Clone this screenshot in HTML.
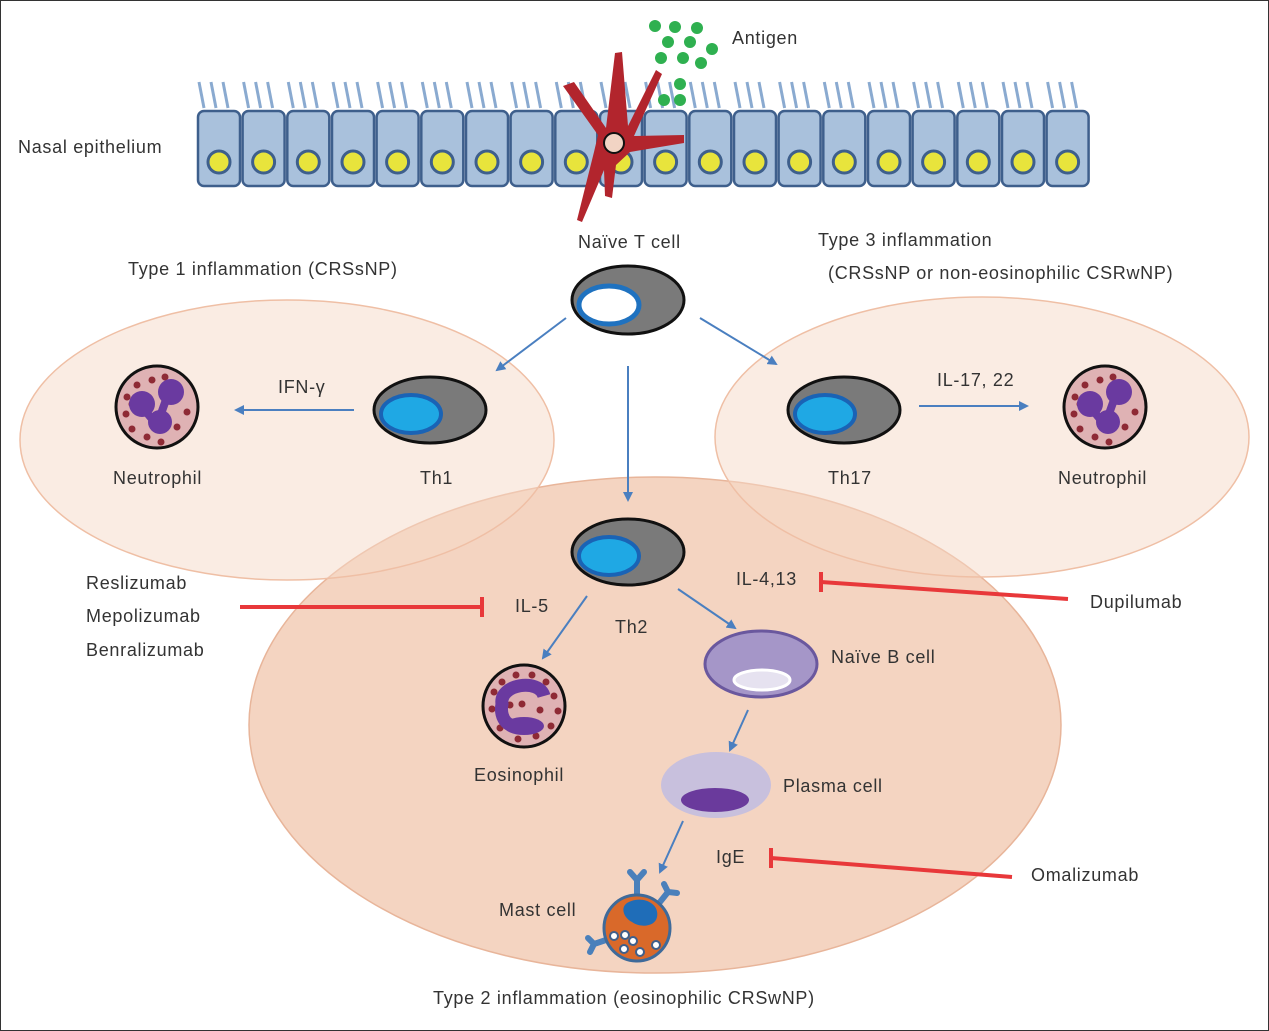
<!DOCTYPE html>
<html><head><meta charset="utf-8"><style>
html,body{margin:0;padding:0;background:#fff}
svg{display:block}
text{font-family:"Liberation Sans",sans-serif;font-size:18px;fill:#333;letter-spacing:0.7px}
</style></head><body>
<svg width="1269" height="1031" viewBox="0 0 1269 1031" xmlns="http://www.w3.org/2000/svg">
<defs>
<g id="cell">
<line x1="7" y1="108" x2="2" y2="82" stroke="#8aaad0" stroke-width="3"/>
<line x1="19" y1="108" x2="14" y2="82" stroke="#8aaad0" stroke-width="3"/>
<line x1="31" y1="108" x2="26" y2="82" stroke="#8aaad0" stroke-width="3"/>
<rect x="1" y="111" width="42" height="75" rx="6" fill="#a9c1dc" stroke="#3e5f8c" stroke-width="2.5"/>
<circle cx="22" cy="162" r="11" fill="#e8e43c" stroke="#3e5f8c" stroke-width="3"/>
</g>
<marker id="ah" markerWidth="10" markerHeight="10" refX="8" refY="5" orient="auto" markerUnits="userSpaceOnUse">
<path d="M0,0 L10,5 L0,10 Z" fill="#4a7fc0"/></marker>
<g id="neut">
<circle r="41" fill="#dfb2b4" stroke="#111" stroke-width="3"/>
<g fill="#8e2a35"><circle cx="-20" cy="-22" r="3.5"/><circle cx="-5" cy="-27" r="3.5"/><circle cx="8" cy="-30" r="3.5"/><circle cx="-30" cy="-10" r="3.5"/><circle cx="-31" cy="7" r="3.5"/><circle cx="-25" cy="22" r="3.5"/><circle cx="-10" cy="30" r="3.5"/><circle cx="4" cy="35" r="3.5"/><circle cx="20" cy="20" r="3.5"/><circle cx="30" cy="5" r="3.5"/><circle cx="-25" cy="-3" r="3.5"/><circle cx="16" cy="-20" r="3.5"/></g>
<g fill="#6a3aa0"><circle cx="-15" cy="-3" r="13"/><circle cx="14" cy="-15" r="13"/><circle cx="3" cy="15" r="12"/><path d="M-15,0 L0,18 L10,-10" stroke="#6a3aa0" stroke-width="8" fill="none"/></g>
</g>
</defs>
<rect x="0.5" y="0.5" width="1268" height="1030" fill="#fff" stroke="#333"/>
<ellipse cx="655" cy="725" rx="406" ry="248" fill="#f2cdb6" fill-opacity="0.85" stroke="#e8b59a" stroke-width="1.5"/>
<ellipse cx="287" cy="440" rx="267" ry="140" fill="#f6d9c8" fill-opacity="0.5" stroke="#efbfa5" stroke-width="1.5"/>
<ellipse cx="982" cy="437" rx="267" ry="140" fill="#f6d9c8" fill-opacity="0.5" stroke="#efbfa5" stroke-width="1.5"/>
<g transform="translate(197,0)">
<use href="#cell" x="0"/><use href="#cell" x="44.6"/><use href="#cell" x="89.3"/><use href="#cell" x="134"/><use href="#cell" x="178.6"/><use href="#cell" x="223.3"/><use href="#cell" x="268"/><use href="#cell" x="312.6"/><use href="#cell" x="357.3"/><use href="#cell" x="402"/><use href="#cell" x="446.6"/><use href="#cell" x="491.3"/><use href="#cell" x="536"/><use href="#cell" x="580.6"/><use href="#cell" x="625.3"/><use href="#cell" x="670"/><use href="#cell" x="714.6"/><use href="#cell" x="759.3"/><use href="#cell" x="804"/><use href="#cell" x="848.6"/>
</g>
<path d="M563,86 L574,82 L606,128 L615,53 L622,52 L628,126 L656,70 L662,74 L634,136 L684,135 L684,143 L630,152 L616,165 L612,198 L605,196 L604,170 L582,222 L577,220 L594,152 L598,135 Z" fill="#b2252d"/>
<circle cx="614" cy="143" r="10" fill="#f2d4c4" stroke="#111" stroke-width="2"/>
<g fill="#2fb050"><circle cx="655" cy="26" r="6"/><circle cx="675" cy="27" r="6"/><circle cx="697" cy="28" r="6"/><circle cx="668" cy="42" r="6"/><circle cx="690" cy="42" r="6"/><circle cx="712" cy="49" r="6"/><circle cx="661" cy="58" r="6"/><circle cx="683" cy="58" r="6"/><circle cx="701" cy="63" r="6"/><circle cx="680" cy="84" r="6"/><circle cx="664" cy="100" r="6"/><circle cx="680" cy="100" r="6"/></g>
<ellipse cx="628" cy="300" rx="56" ry="34" fill="#7a7a7a" stroke="#111" stroke-width="3"/>
<ellipse cx="609" cy="305" rx="30" ry="19" fill="#fff" stroke="#1f72c0" stroke-width="5"/>
<ellipse cx="430" cy="410" rx="56" ry="33" fill="#7a7a7a" stroke="#111" stroke-width="3"/>
<ellipse cx="411" cy="414" rx="30" ry="19" fill="#1fa8e4" stroke="#1a63b5" stroke-width="4"/>
<ellipse cx="844" cy="410" rx="56" ry="33" fill="#7a7a7a" stroke="#111" stroke-width="3"/>
<ellipse cx="825" cy="414" rx="30" ry="19" fill="#1fa8e4" stroke="#1a63b5" stroke-width="4"/>
<ellipse cx="628" cy="552" rx="56" ry="33" fill="#7a7a7a" stroke="#111" stroke-width="3"/>
<ellipse cx="609" cy="556" rx="30" ry="19" fill="#1fa8e4" stroke="#1a63b5" stroke-width="4"/>
<use href="#neut" x="157" y="407"/>
<use href="#neut" x="1105" y="407"/>
<g transform="translate(524,706)">
<circle r="41" fill="#dfb2b4" stroke="#111" stroke-width="3"/>
<g fill="#8e2a35"><circle cx="-22" cy="-24" r="3.5"/><circle cx="-8" cy="-31" r="3.5"/><circle cx="8" cy="-31" r="3.5"/><circle cx="22" cy="-24" r="3.5"/><circle cx="30" cy="-10" r="3.5"/><circle cx="34" cy="5" r="3.5"/><circle cx="27" cy="20" r="3.5"/><circle cx="12" cy="30" r="3.5"/><circle cx="-6" cy="33" r="3.5"/><circle cx="-24" cy="22" r="3.5"/><circle cx="-32" cy="3" r="3.5"/><circle cx="-30" cy="-14" r="3.5"/><circle cx="-2" cy="-2" r="3.5"/><circle cx="-14" cy="-1" r="3.5"/><circle cx="16" cy="4" r="3.5"/></g>
<path d="M20,-10 C15,-28 -25,-22 -22,-2 C-24,8 -20,20 -8,20" stroke="#6a3aa0" stroke-width="13" fill="none"/>
<ellipse cx="0" cy="20" rx="20" ry="9" fill="#6a3aa0"/>
</g>
<ellipse cx="761" cy="664" rx="56" ry="33" fill="#a596c8" stroke="#6a589e" stroke-width="3"/>
<ellipse cx="762" cy="680" rx="28" ry="10" fill="#e6e2f0" stroke="#fff" stroke-width="3"/>
<ellipse cx="716" cy="785" rx="55" ry="33" fill="#c8c0dd"/>
<ellipse cx="715" cy="800" rx="34" ry="12" fill="#6a3a9c"/>
<g stroke="#4a80bb" stroke-width="6" fill="none" stroke-linecap="round">
<path d="M637,896 L637,880 M630,872 L637,880 L644,872"/>
<path d="M660,902 L668,892 M664,884 L668,892 L677,893"/>
<path d="M606,940 L594,944 M588,938 L594,944 L590,952"/>
</g>
<circle cx="637" cy="928" r="33" fill="#d9692a" stroke="#3e6a9a" stroke-width="3"/>
<path d="M627,903 C640,895 660,902 657,917 C655,927 640,928 632,922 C624,918 620,908 627,903 Z" fill="#1f6db8"/>
<g fill="#fff" stroke="#3e5f8c" stroke-width="2"><circle cx="614" cy="936" r="4"/><circle cx="625" cy="935" r="4"/><circle cx="633" cy="941" r="4"/><circle cx="624" cy="949" r="4"/><circle cx="640" cy="952" r="4"/><circle cx="656" cy="945" r="4"/></g>
<g stroke="#4a7fc0" stroke-width="2" marker-end="url(#ah)">
<line x1="566" y1="318" x2="497" y2="370"/>
<line x1="700" y1="318" x2="776" y2="364"/>
<line x1="628" y1="366" x2="628" y2="500"/>
<line x1="354" y1="410" x2="236" y2="410"/>
<line x1="919" y1="406" x2="1027" y2="406"/>
<line x1="587" y1="596" x2="543" y2="658"/>
<line x1="678" y1="589" x2="735" y2="628"/>
<line x1="748" y1="710" x2="730" y2="750"/>
<line x1="683" y1="821" x2="660" y2="872"/>
</g>
<g stroke="#e8383a" stroke-width="4">
<line x1="240" y1="607" x2="482" y2="607"/><line x1="482" y1="597" x2="482" y2="617"/>
<line x1="1068" y1="599" x2="821" y2="582"/><line x1="821" y1="572" x2="821" y2="592"/>
<line x1="1012" y1="877" x2="771" y2="858"/><line x1="771" y1="848" x2="771" y2="868"/>
</g>
<text x="732" y="44">Antigen</text>
<text x="18" y="153">Nasal epithelium</text>
<text x="578" y="248">Naïve T cell</text>
<text x="818" y="246">Type 3 inflammation</text>
<text x="828" y="279">(CRSsNP or non-eosinophilic CSRwNP)</text>
<text x="128" y="275">Type 1 inflammation (CRSsNP)</text>
<text x="278" y="393">IFN-γ</text>
<text x="113" y="484">Neutrophil</text>
<text x="420" y="484">Th1</text>
<text x="828" y="484">Th17</text>
<text x="937" y="386">IL-17, 22</text>
<text x="1058" y="484">Neutrophil</text>
<text x="86" y="589">Reslizumab</text>
<text x="86" y="622">Mepolizumab</text>
<text x="86" y="656">Benralizumab</text>
<text x="515" y="612">IL-5</text>
<text x="615" y="633">Th2</text>
<text x="736" y="585">IL-4,13</text>
<text x="1090" y="608">Dupilumab</text>
<text x="831" y="663">Naïve B cell</text>
<text x="474" y="781">Eosinophil</text>
<text x="783" y="792">Plasma cell</text>
<text x="716" y="863">IgE</text>
<text x="1031" y="881">Omalizumab</text>
<text x="499" y="916">Mast cell</text>
<text x="433" y="1004">Type 2 inflammation (eosinophilic CRSwNP)</text>
</svg>
</body></html>
